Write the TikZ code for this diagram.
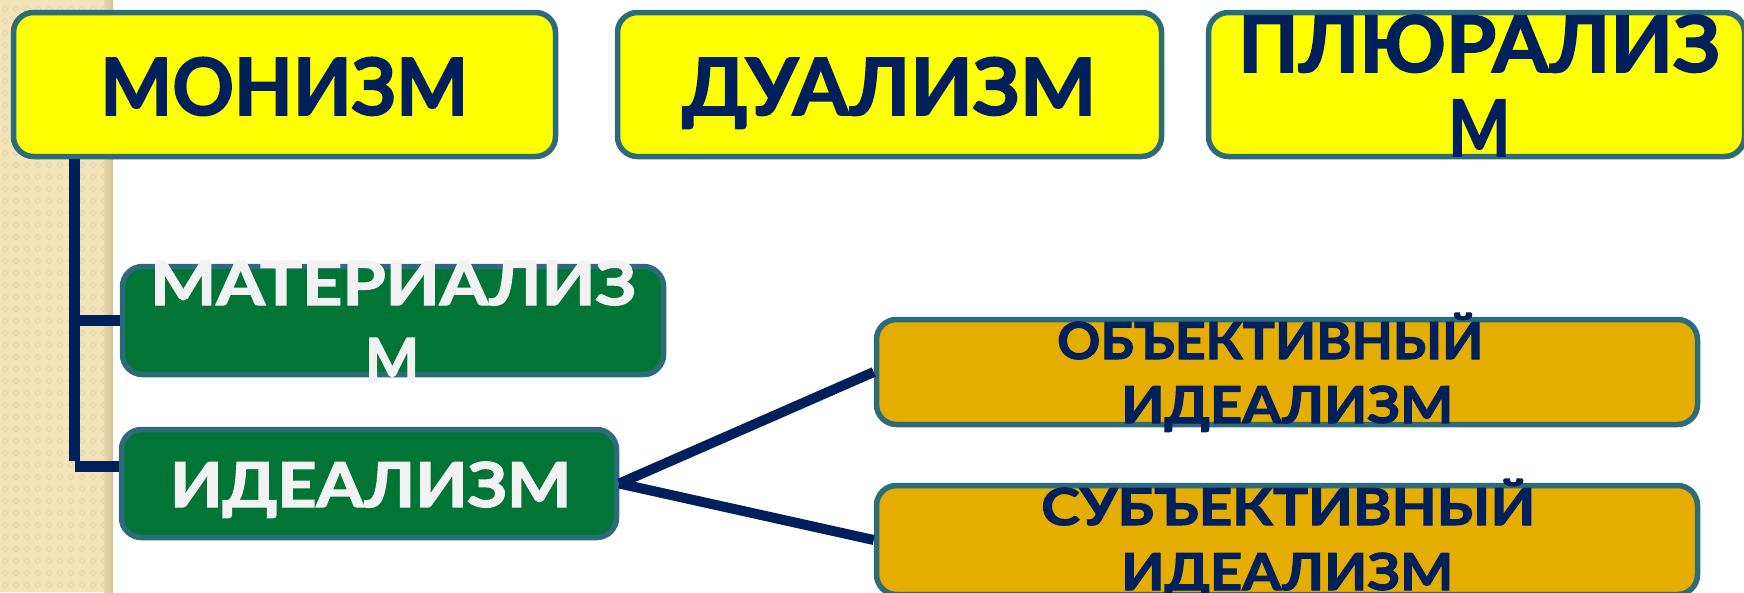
\documentclass[tikz,border=0pt]{standalone}
\usepackage{fontspec}
\setmainfont{Lato}[BoldFeatures={FakeBold=2}]
\usepackage{graphicx}
\definecolor{ylw}{HTML}{FFFF00}
\definecolor{grn}{HTML}{007535}
\definecolor{gld}{HTML}{E5AD00}
\definecolor{brd}{HTML}{2B6B7A}
\definecolor{navy}{HTML}{00205B}
\definecolor{wht}{HTML}{F2F2F2}
\definecolor{beige}{HTML}{F3E3B9}
\definecolor{beiged}{HTML}{E9D7A8}
\definecolor{beiges}{HTML}{CFC096}
\newsavebox\fitbox
\newcommand\fitw[2]{\sbox\fitbox{#2}\pgfmathsetmacro\fitfac{#1/\the\wd\fitbox}\scalebox{\fitfac}[1]{\usebox\fitbox}}
\tikzset{
  box/.style={draw=brd, line width=5.5pt, rounded corners=20pt, inner sep=0pt},
  ybox/.style={box, fill=ylw},
  gbox/.style={box, fill=grn},
  obox/.style={box, fill=gld},
  txt/.style={anchor=base west, inner sep=0pt, font=\bfseries},
  conn/.style={draw=navy, line width=11pt},
  conn2/.style={draw=navy, line width=10pt},
}
\begin{document}
\begin{tikzpicture}[x=1pt,y=-1pt]
\useasboundingbox (0,0) rectangle (1744,592);
\fill[white] (0,0) rectangle (1744,592);
% left textured strip
\fill[beige] (0,0) rectangle (107,592);
\foreach \i in {0,...,9}{
  \foreach \j in {0,...,49}{
    \draw[beiged, line width=0.9pt] (\i*11+5,\j*12+6) -- ++(3,3) -- ++(-3,3) -- ++(-3,-3) -- cycle;
  }
}
\shade[left color=beiged, right color=beiges] (104,0) rectangle (113,592);

% boxes
\node[ybox, minimum width=542pt, minimum height=144pt] (monizm) at (284.5,84.5) {};
\node[ybox, minimum width=544pt, minimum height=144pt] (dualizm) at (889.5,84.5) {};
\node[ybox, minimum width=536pt, minimum height=144pt] (pluralizm) at (1476.5,84.5) {};
\node[gbox, minimum width=541pt, minimum height=108pt] (mater) at (393,320.5) {};
\node[gbox, minimum width=495pt, minimum height=108pt] (ideal) at (369,483.5) {};
\node[obox, minimum width=821pt, minimum height=105pt] (obj) at (1287,372) {};
\node[obox, minimum width=821pt, minimum height=109pt] (subj) at (1287,540) {};

% texts
\node[txt, text=navy] (t1) at (100,115) {\fitw{368}{\fontsize{79}{79}\selectfont МОНИЗМ}};
\node[txt, text=navy] (t2) at (682,115) {\fitw{414}{\fontsize{79}{79}\selectfont ДУАЛИЗМ}};
\node[txt, text=navy] (t3a) at (1238,72) {\fitw{482}{\fontsize{78}{78}\selectfont ПЛЮРАЛИЗ}};
\node[txt, text=navy] (t3b) at (1448,156) {\fitw{62}{\fontsize{78}{78}\selectfont М}};
\node[txt, text=wht] (t4a) at (150,305) {\fitw{486}{\fontsize{61}{61}\selectfont МАТЕРИАЛИЗ}};
\node[txt, text=wht] (t4b) at (365,382) {\fitw{54}{\fontsize{61}{61}\selectfont М}};
\node[txt, text=wht] (t5) at (170,507) {\fitw{401}{\fontsize{62}{62}\selectfont ИДЕАЛИЗМ}};
\node[txt, text=navy] (t6a) at (1057,359) {\fitw{426}{\fontsize{51}{51}\selectfont ОБЪЕКТИВНЫЙ}};
\node[txt, text=navy] (t6b) at (1121,423) {\fitw{332}{\fontsize{51}{51}\selectfont ИДЕАЛИЗМ}};
\node[txt, text=navy] (t7a) at (1041,525) {\fitw{494}{\fontsize{51}{51}\selectfont СУБЪЕКТИВНЫЙ}};
\node[txt, text=navy] (t7b) at (1121,590) {\fitw{332}{\fontsize{51}{51}\selectfont ИДЕАЛИЗМ}};

% connectors
\coordinate (top) at (74.5,159);
\coordinate (bot) at (74.5,466);
\draw[conn] (top) -- ([yshift=5.5pt]bot);
\draw[conn] (top |- mater.west) -- (mater.west);
\draw[conn] (bot) -- (ideal.west |- bot);
\draw[conn2] (ideal.east) -- (obj.west);
\draw[conn2] (ideal.east) -- (subj.west);
\end{tikzpicture}
\end{document}
